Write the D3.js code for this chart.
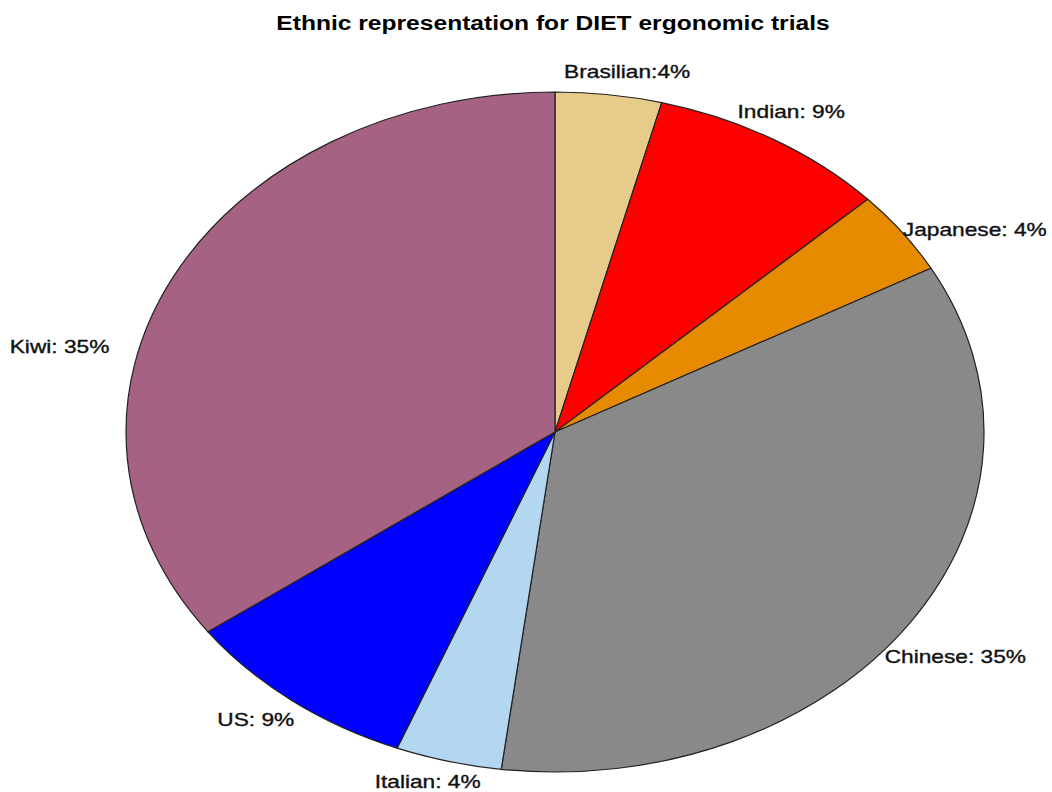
<!DOCTYPE html>
<html>
<head>
<meta charset="utf-8">
<script src="https://cdn.jsdelivr.net/npm/d3@7"></script>
<style>
  html, body { margin: 0; padding: 0; background: #ffffff; }
  svg { display: block; }
</style>
</head>
<body>
<svg id="chart" width="1052" height="792"></svg>
<script>
// Ethnic groups, clockwise from 12 o'clock
const categories = ["Brasilian", "Indian", "Japanese", "Chinese", "Italian", "US", "Kiwi"];
const percents   = [4, 9, 4, 35, 4, 9, 35];
const labels     = ["Brasilian:4%", "Indian: 9%", "Japanese: 4%", "Chinese: 35%", "Italian: 4%", "US: 9%", "Kiwi: 35%"];
const sliceColors = ["#E6CB8A", "#FF0000", "#E68A00", "#898989", "#B3D6F1", "#0000FF", "#A56283"];

const titleText = "Ethnic representation for DIET ergonomic trials";

// Layout
const width = 1052, height = 792;
const cx = 555, cy = 432;
const ry = 340;              // vertical radius
const stretch = 429 / 340;   // horizontal stretch of the whole drawing
const labelFactor = 1.1;

// Fine placement of individual labels (px)
const labelNudge = {
  Brasilian: [13, 11], Indian: [-4, 1], Japanese: [38, 17], Chinese: [10, 14],
  Italian: [-10, -13], US: [-10, -8], Kiwi: [-75, 84]
};

const svg = d3.select("#chart");

const data = categories.map((c, i) => ({ name: c, value: percents[i], label: labels[i], color: sliceColors[i] }));

const pie = d3.pie().value(d => d.value).sort(null).startAngle(0).endAngle(2 * Math.PI);
const arcs = pie(data);

const arc = d3.arc().innerRadius(0).outerRadius(ry);

// Pie, drawn round and stretched into an ellipse
const pieG = svg.append("g")
  .attr("transform", `translate(${cx},${cy}) scale(${stretch},1)`);

pieG.selectAll("path")
  .data(arcs)
  .join("path")
  .attr("d", arc)
  .attr("fill", d => d.data.color)
  .attr("stroke", "#222")
  .attr("stroke-width", 1.2)
  .attr("vector-effect", "non-scaling-stroke")
  .attr("stroke-linejoin", "round");

// Slice labels
const labelG = svg.append("g");
labelG.selectAll("g")
  .data(arcs)
  .join("g")
  .attr("transform", d => {
    const a = (d.startAngle + d.endAngle) / 2;
    const n = labelNudge[d.data.name] || [0, 0];
    const x = cx + labelFactor * ry * stretch * Math.sin(a) + n[0];
    const y = cy - labelFactor * ry * Math.cos(a) + n[1];
    return `translate(${x},${y}) scale(${stretch},1)`;
  })
  .append("text")
  .attr("text-anchor", "middle")
  .attr("dy", "0.36em")
  .attr("font-family", "Liberation Sans, Arial, sans-serif")
  .attr("font-size", 18)
  .attr("fill", "#111")
  .attr("stroke", "#111")
  .attr("stroke-width", 0.35)
  .text(d => d.data.label);

// Title
svg.append("g")
  .attr("transform", `translate(${553},${30}) scale(${stretch},1)`)
  .append("text")
  .attr("text-anchor", "middle")
  .attr("font-family", "Liberation Sans, Arial, sans-serif")
  .attr("font-weight", "bold")
  .attr("font-size", 19.5)
  .attr("fill", "#000")
  .text(titleText);
</script>
</body>
</html>
